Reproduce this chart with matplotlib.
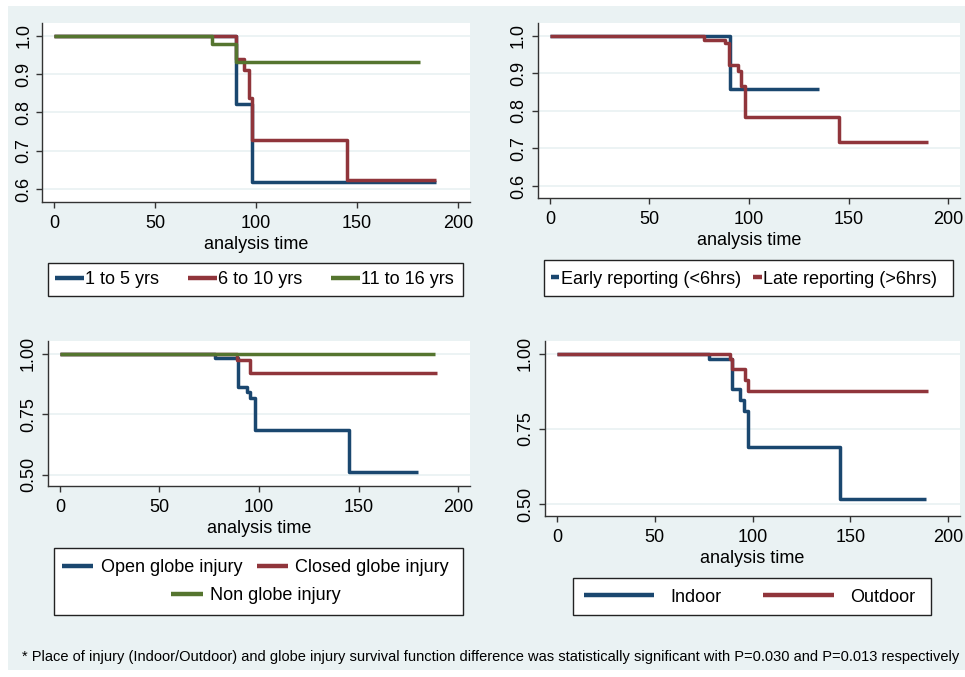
import matplotlib
matplotlib.use("Agg")
import matplotlib.pyplot as plt
from matplotlib.lines import Line2D
from matplotlib.patches import Rectangle

plt.rcParams["font.family"] = ["Liberation Sans", "DejaVu Sans"]

W, H = 965, 677
BG = "#EAF2F3"
NAVY, MAROON, GREEN = "#1a476f", "#90353b", "#55752f"

# --- data (Kaplan-Meier steps: time of change, survival after change) ---
age_labels = ["1 to 5 yrs", "6 to 10 yrs", "11 to 16 yrs"]
age_t = [[0, 90, 98, 189],
         [0, 90, 94, 96.5, 98, 145, 189],
         [0, 78, 90, 181]]
age_s = [[1.0, 0.822, 0.617, 0.617],
         [1.0, 0.938, 0.910, 0.837, 0.727, 0.623, 0.623],
         [1.0, 0.977, 0.931, 0.931]]

rep_labels = ["Early reporting (<6hrs)", "Late reporting (>6hrs)"]
rep_t = [[0, 90.5, 135],
         [0, 77.5, 88, 90, 94.5, 96, 98, 145, 190]]
rep_s = [[1.0, 0.857, 0.857],
         [1.0, 0.989, 0.980, 0.922, 0.906, 0.866, 0.784, 0.718, 0.718]]

globe_labels = ["Open globe injury", "Closed globe injury", "Non globe injury"]
globe_t = [[0, 78, 89.6, 93.8, 95.5, 98, 145, 180],
           [0, 88.7, 95.5, 189.5],
           [0, 188.5]]
globe_s = [[1.0, 0.981, 0.864, 0.843, 0.816, 0.685, 0.512, 0.512],
           [1.0, 0.974, 0.921, 0.921],
           [1.0, 1.0]]

place_labels = ["Indoor", "Outdoor"]
place_t = [[0, 77.7, 89.5, 93.4, 95.7, 97.7, 144.6, 188.5],
           [0, 88.7, 89.5, 96, 97.7, 189.4]]
place_s = [[1.0, 0.981, 0.881, 0.846, 0.810, 0.690, 0.516, 0.516],
           [1.0, 0.981, 0.948, 0.912, 0.877, 0.877]]

x_ticks = [0, 50, 100, 150, 200]
y_ticks_a = [0.6, 0.7, 0.8, 0.9, 1.0]
y_ticks_b = [0.5, 0.75, 1.0]

footnote = ("* Place of injury (Indoor/Outdoor) and globe injury survival function difference "
            "was statistically significant with P=0.030 and P=0.013 respectively")


def fx(x):
    return x / W


def fy(y):
    return 1 - y / H


fig = plt.figure(figsize=(W / 100, H / 100), dpi=100, facecolor="white")
fig.patches.append(Rectangle((fx(8), fy(670)), fx(W) - fx(8), fy(6) - fy(670),
                             transform=fig.transFigure, facecolor=BG, edgecolor="none", zorder=-10))


def panel(box, xlim, ylim, yticks, yfmt, times, survs, colors, ypad):
    x0, y0, x1, y1 = box
    ax = fig.add_axes([fx(x0), fy(y1), fx(x1) - fx(x0), fy(y0) - fy(y1)])
    ax.set_facecolor("white")
    for t, s, c in zip(times, survs, colors):
        ax.step(t, s, where="post", color=c, lw=2.5, solid_capstyle="butt")
    ax.set_xlim(*xlim)
    ax.set_ylim(*ylim)
    ax.set_xticks(x_ticks)
    ax.set_yticks(yticks)
    ax.set_yticklabels([yfmt.format(v) for v in yticks], rotation=90, va="center")
    ax.grid(axis="y", color=BG, lw=1.3)
    ax.set_axisbelow(True)
    for side in ["top", "right"]:
        ax.spines[side].set_visible(False)
    for side in ["left", "bottom"]:
        ax.spines[side].set_color("#333333")
        ax.spines[side].set_linewidth(1.0)
    ax.tick_params(axis="both", direction="out", length=4, width=1, color="#333333",
                   labelsize=13, labelcolor="black")
    ax.tick_params(axis="x", pad=5.5)
    ax.tick_params(axis="y", pad=ypad)
    ax.set_xlabel("analysis time", fontsize=13, labelpad=2.5)
    return ax


def legend_box(x0, y0, x1, y1):
    fig.patches.append(Rectangle((fx(x0), fy(y1)), fx(x1) - fx(x0), fy(y0) - fy(y1),
                                 transform=fig.transFigure, facecolor="white",
                                 edgecolor="#222222", lw=1.0, zorder=5))


def legend_row(labels, colors, cx, cy, hl, htp, cs):
    handles = [Line2D([], [], color=c, lw=3.2, solid_capstyle="butt") for c in colors]
    leg = fig.legend(handles, labels, loc="center", bbox_to_anchor=(fx(cx), fy(cy)),
                     ncol=len(labels), frameon=False, fontsize=13, handlelength=hl,
                     handletextpad=htp, columnspacing=cs, borderpad=0, borderaxespad=0)
    leg.set_zorder(6)
    return leg


panel((42, 23, 470, 202), (-5.9, 205.9), (0.566, 1.033), y_ticks_a, "{:.1f}",
      age_t, age_s, [NAVY, MAROON, GREEN], 3)
legend_box(48, 263, 463, 296)
legend_row(age_labels, [NAVY, MAROON, GREEN], 254.5, 279.5, 1.6, 0.05, 1.6)

panel((538, 23, 960, 198), (-6.0, 206.0), (0.568, 1.034), y_ticks_a, "{:.1f}",
      rep_t, rep_s, [NAVY, MAROON], 4)
legend_box(544, 260, 953, 296)
legend_row(rep_labels, [NAVY, MAROON], 744, 279, 0.45, 0.1, 0.7)

panel((48, 341, 470, 486), (-6.0, 206.0), (0.453, 1.052), y_ticks_b, "{:.2f}",
      globe_t, globe_s, [NAVY, MAROON, GREEN], 4)
legend_box(54, 548, 463, 615)
legend_row(globe_labels[:2], [NAVY, MAROON], 255.5, 568, 1.75, 0.4, 0.8)
legend_row(globe_labels[2:], [GREEN], 256, 596, 1.75, 0.4, 0.8)

panel((545, 341, 960, 516), (-6.1, 206.0), (0.46, 1.042), y_ticks_b, "{:.2f}",
      place_t, place_s, [NAVY, MAROON], 4)
legend_box(573, 578, 931, 615)
legend_row(place_labels, [NAVY, MAROON], 749.5, 597, 3.9, 0.9, 2.3)

fig.text(fx(22), fy(657), footnote, fontsize=10.5, va="center", ha="left")

fig.savefig("out.png", dpi=100, facecolor="white")
